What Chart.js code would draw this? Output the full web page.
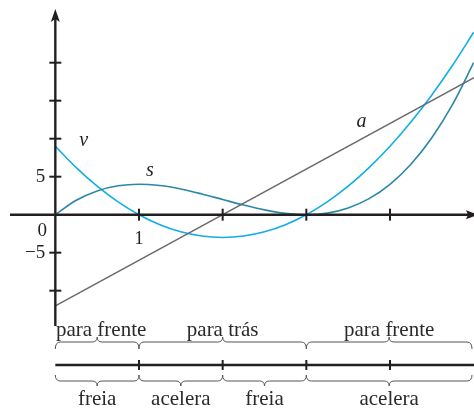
<!DOCTYPE html>
<html>
<head>
<meta charset="utf-8">
<script src="https://cdn.jsdelivr.net/npm/chart.js@4"></script>
<style>
  html, body { margin: 0; padding: 0; background: #fff; }
  #wrap { width: 474px; height: 409px; position: relative; }
</style>
</head>
<body>
<div id="wrap"><canvas id="c"></canvas></div>
<script>
// ---- data ----
const tValues = [0, 0.25, 0.5, 0.75, 1, 1.25, 1.5, 1.75, 2, 2.25, 2.5, 2.75, 3, 3.25, 3.5, 3.75, 4, 4.25, 4.5, 4.75, 5];
const sValues = [0, 1.89, 3.13, 3.8, 4, 3.83, 3.38, 2.73, 2, 1.27, 0.63, 0.17, 0, 0.2, 0.88, 2.11, 4, 6.64, 10.13, 14.55, 20];
const vValues = [9, 6.19, 3.75, 1.69, 0, -1.31, -2.25, -2.81, -3, -2.81, -2.25, -1.31, 0, 1.69, 3.75, 6.19, 9, 12.19, 15.75, 19.69, 24];
const aT = [0, 5.004];
const aValues = [-12, 18.02];

const xTicks = [1, 2, 3, 4];
const yTicks = [-10, -5, 5, 10, 15, 20];
const yTickLabels = [5, -5];
const xTickLabels = [1];

const topSegStart = [0, 1, 3];
const topSegEnd = [1, 3, 5];
const topSegLabels = ['para frente', 'para trás', 'para frente'];
const botSegStart = [0, 1, 2, 3];
const botSegEnd = [1, 2, 3, 5];
const botSegLabels = ['freia', 'acelera', 'freia', 'acelera'];
const timelineTicks = [1, 2, 3, 4];

const curveLabels = ['v', 's', 'a'];
const curveLabelT = [0.34, 1.13, 3.66];
const curveLabelY = [9.7, 5.8, 12.2];

const COL_V = '#12ade6';
const COL_S = '#2a88a6';
const COL_A = '#6a6a6a';
const COL_AX = '#231f20';
const SERIF = '"Liberation Serif", "DejaVu Serif", serif';

function pts(xs, ys) { return xs.map((x, i) => ({ x: x, y: ys[i] })); }

const overlay = {
  id: 'overlay',
  afterDatasetsDraw(chart) {
    const ctx = chart.ctx;
    const xs = chart.scales.x, ys = chart.scales.y;
    const X = v => xs.getPixelForValue(v);
    const Y = v => ys.getPixelForValue(v);
    const x0 = X(0), y0 = Y(0);
    ctx.save();
    ctx.strokeStyle = COL_AX;
    ctx.fillStyle = COL_AX;
    ctx.lineWidth = 2.4;
    ctx.lineCap = 'butt';
    // x axis
    ctx.beginPath();
    ctx.moveTo(10, y0); ctx.lineTo(470, y0); ctx.stroke();
    ctx.beginPath();
    ctx.moveTo(478, y0); ctx.lineTo(466, y0 - 4.5); ctx.lineTo(468, y0); ctx.lineTo(466, y0 + 4.5); ctx.closePath(); ctx.fill();
    // y axis
    ctx.beginPath();
    ctx.moveTo(x0, 326); ctx.lineTo(x0, 18); ctx.stroke();
    ctx.beginPath();
    ctx.moveTo(x0, 9); ctx.lineTo(x0 - 4.5, 22); ctx.lineTo(x0, 19); ctx.lineTo(x0 + 4.5, 22); ctx.closePath(); ctx.fill();
    // ticks
    ctx.lineWidth = 2;
    xTicks.forEach(t => { ctx.beginPath(); ctx.moveTo(X(t), y0 - 6); ctx.lineTo(X(t), y0 + 6); ctx.stroke(); });
    yTicks.forEach(t => { ctx.beginPath(); ctx.moveTo(x0 - 6, Y(t)); ctx.lineTo(x0 + 6, Y(t)); ctx.stroke(); });
    // tick labels
    ctx.fillStyle = '#231f20';
    ctx.font = '19px ' + SERIF;
    ctx.textBaseline = 'middle';
    ctx.textAlign = 'right';
    yTickLabels.forEach(t => ctx.fillText(t < 0 ? '\u2212' + Math.abs(t) : String(t), x0 - 10, Y(t)));
    ctx.textAlign = 'center';
    ctx.fillText('0', x0 - 13, y0 + 16);
    xTickLabels.forEach(t => ctx.fillText(String(t), X(t), y0 + 24));
    // curve labels
    ctx.font = 'italic 20px ' + SERIF;
    curveLabels.forEach((l, i) => ctx.fillText(l, X(curveLabelT[i]), Y(curveLabelY[i])));

    // timeline
    const lineY = 365;
    ctx.lineWidth = 2.4;
    ctx.beginPath(); ctx.moveTo(x0, lineY); ctx.lineTo(474, lineY); ctx.stroke();
    ctx.lineWidth = 2;
    timelineTicks.forEach(t => { ctx.beginPath(); ctx.moveTo(X(t), lineY - 5); ctx.lineTo(X(t), lineY + 5); ctx.stroke(); });

    function brace(xa, xb, yEnd, yBody, yTip) {
      const xm = (xa + xb) / 2, r = 5;
      ctx.beginPath();
      ctx.moveTo(xa, yEnd);
      ctx.quadraticCurveTo(xa, yBody, xa + r, yBody);
      ctx.lineTo(xm - r, yBody);
      ctx.quadraticCurveTo(xm, yBody, xm, yTip);
      ctx.quadraticCurveTo(xm, yBody, xm + r, yBody);
      ctx.lineTo(xb - r, yBody);
      ctx.quadraticCurveTo(xb, yBody, xb, yEnd);
      ctx.stroke();
    }
    ctx.strokeStyle = '#555';
    ctx.lineWidth = 1;
    ctx.fillStyle = '#2a2a2a';
    ctx.font = '21px ' + SERIF;
    ctx.textAlign = 'center';
    ctx.textBaseline = 'middle';
    topSegStart.forEach((s, i) => {
      const xa = X(s), xb = Math.min(X(topSegEnd[i]), 472);
      brace(xa, xb, 349, 342, 337);
      ctx.fillText(topSegLabels[i], (xa + xb) / 2 + (i === 0 ? 4 : 0), 330);
    });
    botSegStart.forEach((s, i) => {
      const xa = X(s), xb = Math.min(X(botSegEnd[i]), 472);
      brace(xa, xb, 375, 381, 386);
      ctx.fillText(botSegLabels[i], (xa + xb) / 2, 399);
    });
    ctx.restore();
  }
};

new Chart(document.getElementById('c'), {
  type: 'scatter',
  data: {
    datasets: [
      { label: 'a', data: pts(aT, aValues), showLine: true, borderColor: COL_A, borderWidth: 1.5, pointRadius: 0, tension: 0 },
      { label: 's', data: pts(tValues, sValues), showLine: true, borderColor: COL_S, borderWidth: 1.6, pointRadius: 0, cubicInterpolationMode: 'monotone' },
      { label: 'v', data: pts(tValues, vValues), showLine: true, borderColor: COL_V, borderWidth: 1.6, pointRadius: 0, cubicInterpolationMode: 'monotone' }
    ]
  },
  options: {
    responsive: true,
    maintainAspectRatio: false,
    animation: false,
    layout: { padding: 0 },
    plugins: { legend: { display: false }, tooltip: { enabled: false } },
    scales: {
      x: { type: 'linear', display: false, min: -0.6613, max: 5.004 },
      y: { type: 'linear', display: false, min: -25.57, max: 28.25 }
    }
  },
  plugins: [overlay]
});
</script>
</body>
</html>
